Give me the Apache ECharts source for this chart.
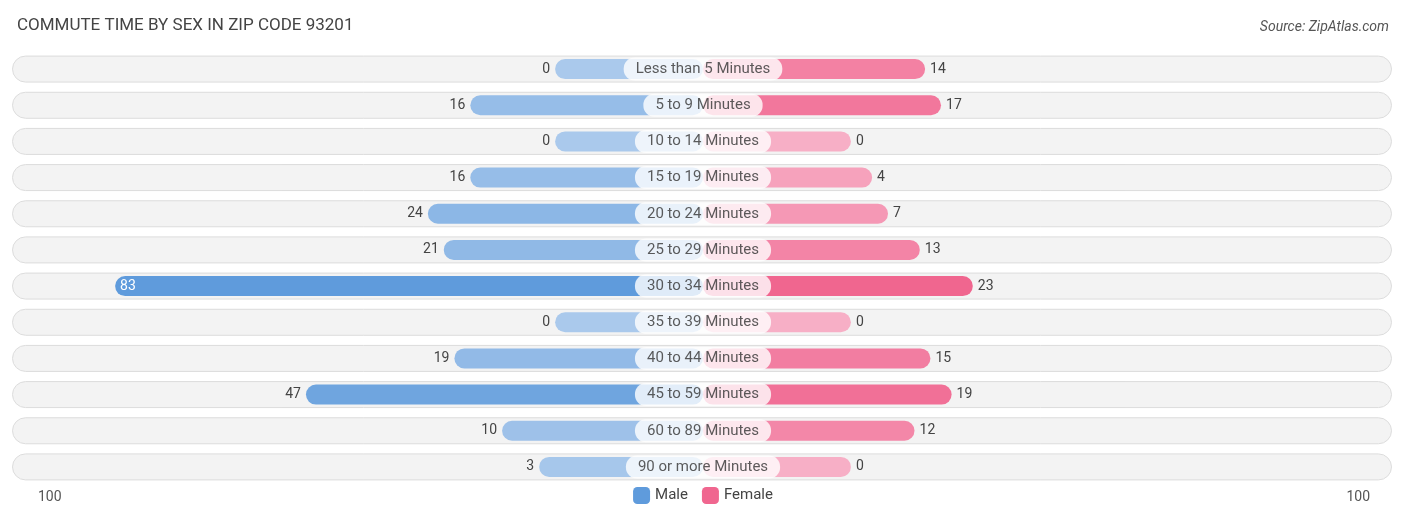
<!DOCTYPE html>
<html><head><meta charset="utf-8">
<script src="https://cdn.jsdelivr.net/npm/echarts@6/dist/echarts.min.js"></script>
<style>html,body{margin:0;padding:0;background:#fff}#c{width:1406px;height:523px}</style>
</head><body><div id="c"></div>
<script>
const categories = ["Less than 5 Minutes","5 to 9 Minutes","10 to 14 Minutes","15 to 19 Minutes","20 to 24 Minutes","25 to 29 Minutes","30 to 34 Minutes","35 to 39 Minutes","40 to 44 Minutes","45 to 59 Minutes","60 to 89 Minutes","90 or more Minutes"];
const male = [0,16,0,16,24,21,83,0,19,47,10,3];
const female = [14,17,0,4,7,13,23,0,15,19,12,0];
const axisTicks = ["100","100"];
const OFF = 27.9;
function mix(a,b,t){const p=s=>[1,3,5].map(i=>parseInt(s.substr(i,2),16));const A=p(a),B=p(b);return 'rgb('+A.map((x,i)=>Math.round(x+(B[i]-x)*t)).join(',')+')';}
const maleColor = v => mix('#aac9ec','#5f9bdc',Math.min(1,v/60));
const femaleColor = v => mix('#f7afc6','#f0668f',Math.min(1,v/22));
const chart = echarts.init(document.getElementById('c'));
chart.setOption({
  animation:false,
  title:[{text:'COMMUTE TIME BY SEX IN ZIP CODE 93201',left:12,top:12,textStyle:{fontFamily:'Roboto',fontSize:17,fontWeight:'normal',color:'#444'}},
         {text:'Source: ZipAtlas.com',right:12,top:15,textStyle:{fontFamily:'Roboto',fontSize:14,fontStyle:'italic',fontWeight:'normal',color:'#555'}}],
  legend:{bottom:14,left:'center',itemWidth:17,itemHeight:17,itemGap:14,textStyle:{fontFamily:'Roboto',fontSize:15,color:'#444'},
    data:[{name:'Male',itemStyle:{color:'#5f9bdc'}},{name:'Female',itemStyle:{color:'#f0668f'}}]},
  graphic:[{type:'text',left:38,top:490,style:{text:axisTicks[0],font:'14px Roboto',fill:'#555'}},
           {type:'text',right:36,top:490,style:{text:axisTicks[1],font:'14px Roboto',fill:'#555'}}],
  grid:[{left:25,right:25,top:51,bottom:38},{left:12,right:14,top:51,bottom:38}],
  xAxis:[{type:'value',min:-100-OFF,max:100+OFF,show:false,gridIndex:0},{type:'value',min:0,max:1,show:false,gridIndex:1}],
  yAxis:[{type:'category',data:categories,inverse:true,show:false,gridIndex:0},{type:'category',data:categories,inverse:true,show:false,gridIndex:1}],
  series:[
    {type:'bar',xAxisIndex:1,yAxisIndex:1,data:categories.map(()=>1),barWidth:27,silent:true,z:0,
     itemStyle:{color:'#f3f3f3',borderColor:'#dcdcdc',borderWidth:1,borderRadius:14}},
    {name:'Male',type:'bar',stack:'a',data:male.map(v=>({value:-(v+OFF),itemStyle:{color:maleColor(v)},
       label:v>60?{position:'insideLeft',color:'#fff'}:{position:'left',color:'#444'}})),
     barWidth:20,z:2,itemStyle:{borderRadius:10},
     label:{show:true,fontFamily:'Roboto',fontSize:14,formatter:p=>male[p.dataIndex]}},
    {name:'Female',type:'bar',stack:'b',data:female.map(v=>({value:v+OFF,itemStyle:{color:femaleColor(v)}})),
     barWidth:20,barGap:'-100%',z:2,itemStyle:{borderRadius:10},
     label:{show:true,position:'right',color:'#444',fontFamily:'Roboto',fontSize:14,formatter:p=>female[p.dataIndex]}},
    {type:'scatter',data:categories.map(c=>[0,c]),symbolSize:0,z:5,silent:true,
     label:{show:true,position:'inside',formatter:p=>p.value[1],backgroundColor:'#fff',borderRadius:11,padding:[4,12,4,12],
       color:'#333',fontFamily:'Roboto',fontSize:15}}
  ]
});
</script></body></html>
